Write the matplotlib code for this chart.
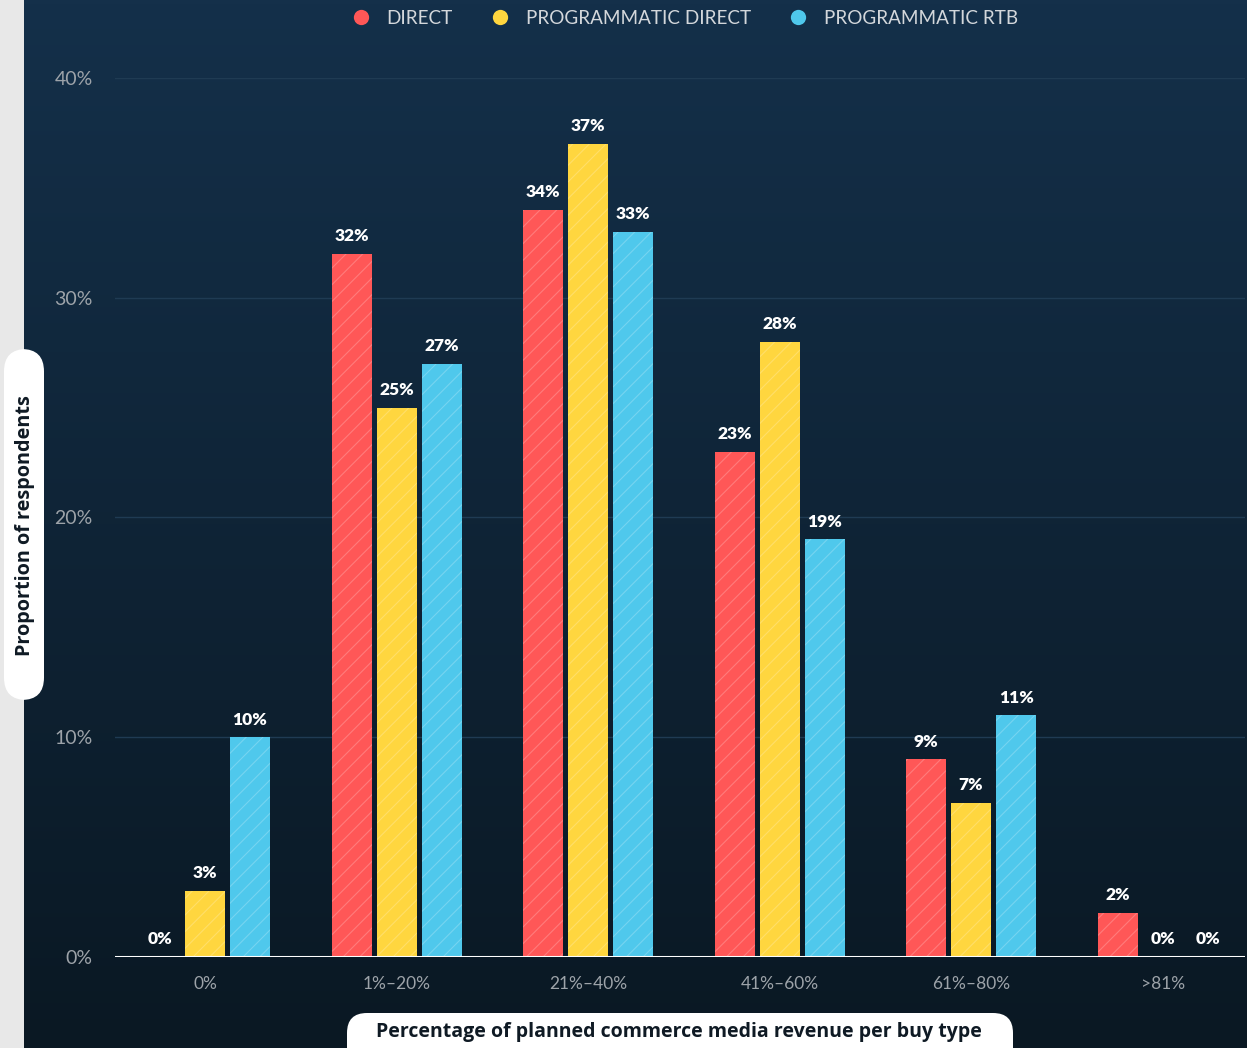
import numpy as np
import matplotlib.pyplot as plt
import matplotlib.patches as mpatches
from matplotlib.lines import Line2D

# Survey results: share of respondents per revenue bucket and buy type
categories = ["0%", "1%–20%", "21%–40%", "41%–60%", "61%–80%", ">81%"]
direct = [0, 32, 34, 23, 9, 2]
prog_direct = [3, 25, 37, 28, 7, 0]
prog_rtb = [10, 27, 33, 19, 11, 0]
series_names = ["DIRECT", "PROGRAMMATIC DIRECT", "PROGRAMMATIC RTB"]
y_ticks = [0, 10, 20, 30, 40]

RED = "#FF5757"
YELLOW = "#FFD63F"
BLUE = "#4FC8EC"
GRID = "#1F3B53"
TICK_GREY = "#9DA3A9"
LEGEND_GREY = "#D3D7DB"
STRIP = "#E8E8E8"

plt.rcParams["hatch.linewidth"] = 0.8

W, H = 1247, 1048
fig = plt.figure(figsize=(W / 100, H / 100), dpi=100, facecolor=STRIP)

# Dark vertical gradient panel
bg = fig.add_axes([24 / W, 0, 1 - 24 / W, 1], zorder=0)
top = np.array([20, 48, 74]) / 255
bot = np.array([10, 24, 35]) / 255
t = np.linspace(0, 1, 256)[:, None, None]
grad = top * (1 - t) + bot * t
grad = np.repeat(grad, 2, axis=1)
bg.imshow(grad, aspect="auto", extent=[0, 1, 0, 1])
bg.axis("off")

ax = fig.add_axes([115 / W, 91 / H, 1130 / W, (957 - 78) / H], zorder=1)
ax.set_facecolor("none")

x = np.arange(len(categories))
width = 0.209
step = 0.235
colors = [RED, YELLOW, BLUE]
for k, (vals, col) in enumerate(zip([direct, prog_direct, prog_rtb], colors)):
    pos = x + (k - 1) * step
    ax.bar(pos, vals, width, color=col, edgecolor="none", zorder=2)
    ax.bar(pos, vals, width, facecolor="none", edgecolor=(1, 1, 1, 0.22),
           linewidth=0, hatch="//", zorder=3)
    for px, v in zip(pos, vals):
        ax.annotate(f"{v}%", (px, v), textcoords="offset points", xytext=(0, 7),
                    ha="center", va="bottom", fontsize=12.5, fontweight="heavy",
                    family="Lato", color="white", zorder=5)

ax.axhline(0, color="white", linewidth=2.2, zorder=4)
ax.set_xlim(-0.47, 5.43)
ax.set_ylim(0, 40)
ax.set_yticks(y_ticks)
ax.set_yticklabels([f"{v}%" for v in y_ticks])
ax.set_xticks(x)
ax.set_xticklabels(categories)
ax.tick_params(length=0, colors=TICK_GREY)
ax.tick_params(axis="y", pad=16, labelsize=14)
ax.tick_params(axis="x", pad=14, labelsize=12.5)
for lab in ax.get_yticklabels() + ax.get_xticklabels():
    lab.set_family("Lato")
for s in ax.spines.values():
    s.set_visible(False)
ax.grid(axis="y", color=GRID, linewidth=1)
ax.set_axisbelow(True)

# Legend across the top
handles = [Line2D([], [], marker="o", linestyle="none", markersize=11,
                  markerfacecolor=c, markeredgecolor="none") for c in colors]
leg = fig.legend(handles, series_names, loc="center", bbox_to_anchor=(680 / W, 1 - 18 / H),
                 ncol=3, frameon=False, handletextpad=0.35, columnspacing=1.5,
                 prop={"family": "Lato", "size": 13.6})
for txt in leg.get_texts():
    txt.set_color(LEGEND_GREY)

# Y-axis title in a white rounded box
ybox = mpatches.FancyBboxPatch((4 / W, (H - 700) / H), 40 / W, 351 / H,
                               boxstyle="round,pad=0,rounding_size=0.018",
                               transform=fig.transFigure, facecolor="white",
                               edgecolor="none", mutation_aspect=W / H, zorder=5)
fig.patches.append(ybox)
fig.text(25 / W, 1 - 526 / H, "Proportion of respondents", rotation=90,
         ha="center", va="center", fontsize=14.3, fontweight="bold",
         family="Open Sans", color="#0F1A24", zorder=6)

# X-axis title in a white rounded box
xbox = mpatches.FancyBboxPatch((347 / W, -20 / H), 666 / W, 55 / H,
                               boxstyle="round,pad=0,rounding_size=0.016",
                               transform=fig.transFigure, facecolor="white",
                               edgecolor="none", mutation_aspect=W / H, zorder=5)
fig.patches.append(xbox)
fig.text(679 / W, 1 - 1032 / H,
         "Percentage of planned commerce media revenue per buy type",
         ha="center", va="center", fontsize=14, fontweight="bold",
         family="Open Sans", color="#0F1A24", zorder=6)

fig.savefig("out.png", dpi=100, facecolor=STRIP)
